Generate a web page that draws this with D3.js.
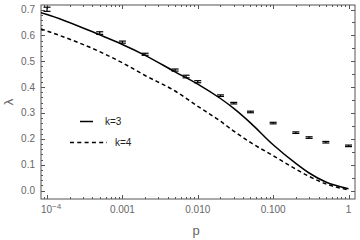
<!DOCTYPE html>
<html><head><meta charset="utf-8">
<script src="https://cdn.jsdelivr.net/npm/d3@7"></script>
<style>body{margin:0;background:#fff}svg{display:block}text{font-family:"Liberation Sans",Arial,sans-serif}</style>
</head><body><svg id="c" width="360" height="240"></svg>
<script>
// data points with error bars
const pPts = [1e-4, 5e-4, 0.001, 0.002, 0.005, 0.007, 0.01, 0.02, 0.03, 0.05, 0.1, 0.2, 0.3, 0.5, 1];
const lamPts = [0.701, 0.609, 0.574, 0.527, 0.466, 0.441, 0.421, 0.367, 0.338, 0.304, 0.261, 0.224, 0.205, 0.187, 0.173];
const errPts = [0.008, 0.005, 0.004, 0.004, 0.004, 0.005, 0.004, 0.003, 0.003, 0.003, 0.003, 0.003, 0.003, 0.003, 0.003];
// theory curves
const pCurve = [8.3e-5, 1e-4, 5e-4, 0.001, 0.002, 0.005, 0.01, 0.02, 0.03, 0.05, 0.1, 0.2, 0.3, 0.5, 1];
const k3 = [0.688, 0.681, 0.602, 0.565, 0.523, 0.459, 0.412, 0.356, 0.318, 0.262, 0.177, 0.105, 0.068, 0.033, 0.007];
const k4 = [0.625, 0.617, 0.537, 0.494, 0.445, 0.385, 0.326, 0.268, 0.230, 0.186, 0.135, 0.083, 0.055, 0.026, 0.003];
const yTicks = [0, 0.1, 0.2, 0.3, 0.4, 0.5, 0.6, 0.7];
const xTicks = [1e-4, 0.001, 0.01, 0.1, 1];
const xTickLabels = ["10", "0.001", "0.010", "0.100", "1"];
const legendLabels = ["k=3", "k=4"];

const svg = d3.select("#c");
const L = 41, R = 355, T = 5, B = 199;
const x = d3.scaleLog().domain([Math.pow(10, -4.08), Math.pow(10, 0.086)]).range([L, R]);
const y = d3.scaleLinear().domain([-0.0325, 0.7175]).range([B, T]);
const axisCol = "#555", labCol = "#666";

// clip
svg.append("defs").append("clipPath").attr("id", "clp").append("rect")
  .attr("x", L).attr("y", T).attr("width", R - L).attr("height", B - T);

// frame
svg.append("rect").attr("x", L).attr("y", T).attr("width", R - L).attr("height", B - T)
  .attr("fill", "none").attr("stroke", axisCol).attr("stroke-width", 1);

// y ticks
const yMinor = d3.range(0, 0.72, 0.02).filter(v => v <= 0.71);
const g = svg.append("g").attr("stroke", axisCol).attr("stroke-width", 1);
yMinor.forEach(v => {
  const major = Math.abs(v * 10 - Math.round(v * 10)) < 1e-6;
  const yy = Math.round(y(v)) + 0.5;
  g.append("line").attr("x1", L).attr("x2", L + (major ? 4 : 2)).attr("y1", yy).attr("y2", yy);
});
d3.range(0, 0.72, 0.05).forEach(v => {
  const major = Math.abs(v * 10 - Math.round(v * 10)) < 1e-6;
  const yy = Math.round(y(v)) + 0.5;
  g.append("line").attr("x1", R).attr("x2", R - (major ? 4 : 3)).attr("y1", yy).attr("y2", yy);
});
// x ticks (log)
const xt = [];
for (let e = -5; e <= 0; e++) for (let m = 1; m <= 9; m++) {
  const v = m * Math.pow(10, e);
  if (v >= x.domain()[0] && v <= x.domain()[1]) xt.push({ v, major: m === 1 });
}
xt.forEach(t => {
  const xx = Math.round(x(t.v)) + 0.5;
  const len = t.major ? 4 : 2;
  g.append("line").attr("x1", xx).attr("x2", xx).attr("y1", B).attr("y2", B - len);
  g.append("line").attr("x1", xx).attr("x2", xx).attr("y1", T).attr("y2", T + len);
});

// y labels
svg.append("g").selectAll("text").data(yTicks).join("text")
  .attr("x", 35).attr("y", d => y(d) + 3.5).attr("text-anchor", "end")
  .attr("font-size", 10).attr("fill", labCol).text(d => d.toFixed(1));
// x labels
xTicks.forEach((v, i) => {
  const t = svg.append("text").attr("x", x(v)).attr("y", 213).attr("text-anchor", "middle")
    .attr("font-size", 10).attr("fill", labCol);
  if (i === 0) {
    t.attr("x", x(v) + 4);
    t.append("tspan").text(xTickLabels[i]);
    t.append("tspan").attr("dy", -4).attr("font-size", 8).text("\u22124");
  } else t.text(xTickLabels[i]);
});
// axis labels
svg.append("text").attr("x", 196).attr("y", 235).attr("text-anchor", "middle")
  .attr("font-size", 13).attr("fill", labCol).text("p");
svg.append("text").attr("transform", "translate(13,102) rotate(-90)").attr("text-anchor", "middle")
  .attr("font-size", 13).attr("fill", labCol).text("λ");

// curves
const line = d3.line().x(d => x(d[0])).y(d => y(d[1])).curve(d3.curveMonotoneX);
const pl = svg.append("g").attr("clip-path", "url(#clp)");
pl.append("path").attr("d", line(pCurve.map((p, i) => [p, k3[i]])))
  .attr("fill", "none").attr("stroke", "#000").attr("stroke-width", 1.5);
pl.append("path").attr("d", line(pCurve.map((p, i) => [p, k4[i]])))
  .attr("fill", "none").attr("stroke", "#000").attr("stroke-width", 1.5).attr("stroke-dasharray", "4,3");

// error bars
const eb = svg.append("g").attr("stroke", "#000").attr("stroke-width", 1.2);
pPts.forEach((p, i) => {
  const cx = x(p), y1 = y(lamPts[i] + errPts[i]), y2 = y(lamPts[i] - errPts[i]);
  eb.append("line").attr("x1", cx).attr("x2", cx).attr("y1", y1).attr("y2", y2);
  eb.append("line").attr("x1", cx - 3.5).attr("x2", cx + 3.5).attr("y1", y1).attr("y2", y1);
  eb.append("line").attr("x1", cx - 3.5).attr("x2", cx + 3.5).attr("y1", y2).attr("y2", y2);
});

// legend
svg.append("line").attr("x1", 80).attr("x2", 93).attr("y1", 121.5).attr("y2", 121.5)
  .attr("stroke", "#000").attr("stroke-width", 1.5);
svg.append("text").attr("x", 105).attr("y", 125).attr("font-size", 10).attr("fill", "#222").text(legendLabels[0]);
svg.append("line").attr("x1", 70).attr("x2", 107).attr("y1", 142.5).attr("y2", 142.5)
  .attr("stroke", "#000").attr("stroke-width", 1.5).attr("stroke-dasharray", "4,3.3");
svg.append("text").attr("x", 115).attr("y", 146).attr("font-size", 10).attr("fill", "#222").text(legendLabels[1]);
</script></body></html>
